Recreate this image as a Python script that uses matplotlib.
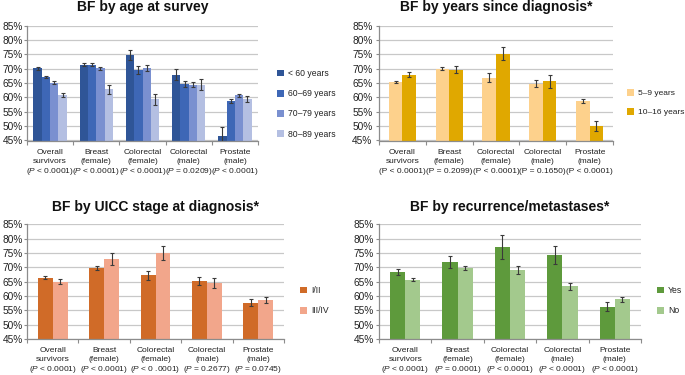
import matplotlib
matplotlib.use('Agg')
import matplotlib.pyplot as plt
import numpy as np
from matplotlib.patches import Patch

plt.rcParams['font.family'] = ['Liberation Sans', 'DejaVu Sans']
plt.rcParams['mathtext.fontset'] = 'custom'
plt.rcParams['mathtext.rm'] = 'Liberation Sans'
plt.rcParams['mathtext.it'] = 'Liberation Sans:italic'

# ---------------- data ----------------
groups = ['Overall\nsurvivors', 'Breast\n(female)', 'Colorectal\n(female)',
          'Colorectal\n(male)', 'Prostate\n(male)']
yticks = [45, 50, 55, 60, 65, 70, 75, 80, 85]

age_title = 'BF by age at survey'
age_labels = ['< 60 years', '60–69 years', '70–79 years', '80–89 years']
age_lt60 = [70.2, 71.4, 74.8, 67.9, 46.7]
age_60s = [67.0, 71.4, 69.5, 64.7, 58.7]
age_70s = [65.2, 70.1, 70.3, 64.5, 60.7]
age_80s = [61.0, 62.8, 59.4, 64.4, 59.4]
age_lt60_err = [0.5, 0.6, 1.9, 1.9, 3.0]
age_60s_err = [0.3, 0.5, 1.3, 1.2, 0.7]
age_70s_err = [0.4, 0.6, 1.0, 0.8, 0.5]
age_80s_err = [0.7, 1.5, 1.9, 1.9, 1.0]
age_p = ['< 0.0001', '< 0.0001', '< 0.0001', '= 0.0209', '< 0.0001']

yrs_title = 'BF by years since diagnosis*'
yrs_labels = ['5–9 years', '10–16 years']
yrs_5_9 = [65.3, 70.0, 66.9, 64.8, 58.7]
yrs_10_16 = [67.9, 69.7, 75.3, 65.6, 50.0]
yrs_5_9_err = [0.4, 0.6, 1.6, 1.2, 0.6]
yrs_10_16_err = [0.8, 1.1, 2.4, 2.2, 1.8]
yrs_p = ['< 0.0001', '= 0.2099', '< 0.0001', '= 0.1650', '< 0.0001']

stg_title = 'BF by UICC stage at diagnosis*'
stg_labels = ['I/II', 'III/IV']
stg_early = [66.4, 69.7, 67.2, 65.2, 57.7]
stg_late = [65.0, 72.8, 75.1, 64.5, 58.6]
stg_early_err = [0.5, 0.6, 1.6, 1.4, 1.1]
stg_late_err = [0.8, 2.1, 2.4, 1.8, 1.1]
stg_p = ['< 0.0001', '< 0.0001', '< 0 .0001', '= 0.2677', '= 0.0745']

rec_title = 'BF by recurrence/metastases*'
rec_labels = ['Yes', 'No']
rec_yes = [68.3, 71.9, 77.0, 74.4, 56.3]
rec_no = [65.7, 69.8, 69.1, 63.4, 58.9]
rec_yes_err = [1.0, 2.0, 4.1, 3.1, 1.7]
rec_no_err = [0.5, 0.6, 1.4, 1.2, 0.9]
rec_p = ['< 0.0001', '= 0.0001', '< 0.0001', '< 0.0001', '< 0.0001']

# ---------------- styling ----------------
W, H = 685, 375
fig = plt.figure(figsize=(W / 100, H / 100), dpi=100)

AXIS_C = '#8c8c8c'
GRID_C = '#c8c8c8'
ERR_C = '#3a3a3a'
TXT_C = '#222222'
LAB_FS = 6.0


def px_axes(l, t, r, b):
    return fig.add_axes([l / W, 1 - b / H, (r - l) / W, (b - t) / H])


def panel(box, title, title_y, series, errs, colors, labels, width, pvals,
          italic_p, leg_xy, ylabel_pad, leg_fs=6.2):
    l, t, r, b = box
    ax = px_axes(l, t, r, b)
    x = np.arange(len(groups))
    n = len(series)
    for i, (vals, e, c) in enumerate(zip(series, errs, colors)):
        ax.bar(x + (i - (n - 1) / 2) * width, vals, width, yerr=e, color=c,
               edgecolor='none', zorder=2,
               error_kw=dict(ecolor=ERR_C, elinewidth=0.8, capsize=1.6,
                             capthick=0.8, zorder=3))
    ax.set_xlim(-0.5, len(groups) - 0.5)
    ax.set_ylim(45, 85)
    ax.set_yticks(yticks)
    ax.set_yticklabels([f'{v}%' for v in yticks])
    ax.grid(axis='y', color=GRID_C, lw=0.9, zorder=0)
    ax.set_axisbelow(True)
    for s in ('top', 'right'):
        ax.spines[s].set_visible(False)
    for s in ('left', 'bottom'):
        ax.spines[s].set_color(AXIS_C)
        ax.spines[s].set_linewidth(0.9)
    ax.set_xticks(x)
    ax.set_xticklabels(groups)
    for lbl in ax.get_xticklabels():
        lbl.set_linespacing(1.4)
    ax.set_xticks(np.arange(-0.5, len(groups), 1), minor=True)
    ax.tick_params(axis='x', which='major', length=0, pad=6.0,
                   labelsize=LAB_FS, labelcolor=TXT_C)
    ax.tick_params(axis='x', which='minor', length=3, width=0.8, color=AXIS_C,
                   direction='out')
    ax.tick_params(axis='y', length=2, width=0.8, color=AXIS_C, labelsize=7.3,
                   pad=ylabel_pad, labelcolor=TXT_C)
    # third line of each category label: the P value
    pstr = r'$\it{P}$' if italic_p else 'P'
    for xi, p in zip(x, pvals):
        ax.annotate(f'({pstr} {p})', xy=(xi, 0),
                    xycoords=('data', 'axes fraction'),
                    xytext=(0, -22.3), textcoords='offset points',
                    ha='center', va='center', fontsize=LAB_FS, color=TXT_C,
                    annotation_clip=False)
    fig.text(((l + r) / 2) / W, 1 - title_y / H, title, ha='center', va='center',
             fontsize=10, fontweight='bold', color='#111111')
    handles = [Patch(facecolor=c, edgecolor='none') for c in colors]
    fig.legend(handles, labels, loc='upper left',
               bbox_to_anchor=(leg_xy[0] / W, 1 - leg_xy[1] / H),
               frameon=False, fontsize=leg_fs, handlelength=0.85,
               handleheight=0.85, handletextpad=0.45, labelspacing=1.3,
               borderpad=0, borderaxespad=0, labelcolor=TXT_C)
    return ax


panel((27, 25.7, 258, 140.5), age_title, 7,
      [age_lt60, age_60s, age_70s, age_80s],
      [age_lt60_err, age_60s_err, age_70s_err, age_80s_err],
      ['#2f5597', '#3e67b6', '#7a90d0', '#b4bfe2'], age_labels, 0.18, age_p,
      True, (277, 69), 0.8)

panel((379, 25.7, 613, 140.5), yrs_title, 7,
      [yrs_5_9, yrs_10_16], [yrs_5_9_err, yrs_10_16_err],
      ['#fdd18c', '#e0a800'], yrs_labels, 0.29, yrs_p,
      False, (627, 89), 2.7, 6.0)

panel((27, 224.3, 284, 339), stg_title, 206.5,
      [stg_early, stg_late], [stg_early_err, stg_late_err],
      ['#d06b28', '#f2a68b'], stg_labels, 0.29, stg_p,
      True, (300, 286), 0.8)

panel((379, 224.3, 641, 339), rec_title, 206.5,
      [rec_yes, rec_no], [rec_yes_err, rec_no_err],
      ['#5e9a3c', '#a3c98d'], rec_labels, 0.29, rec_p,
      True, (657, 286), 1.5)

fig.savefig('out.png', dpi=100)
